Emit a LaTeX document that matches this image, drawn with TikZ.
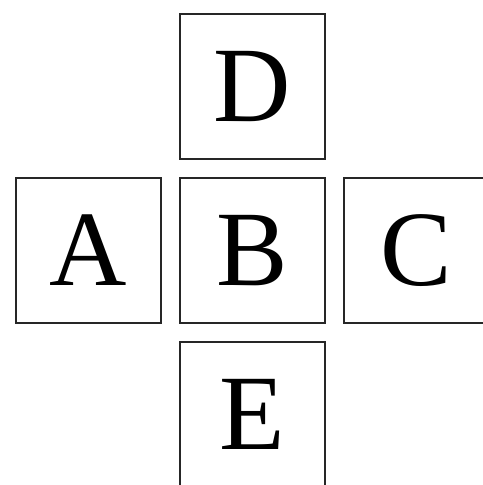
\documentclass[tikz,border=0pt]{standalone}
\usepackage{fontspec}
\setmainfont{Liberation Serif}
\usetikzlibrary{positioning}
\tikzstyle{box} = [rectangle, draw=black!85, line width=1.4pt, minimum size=2.9cm, inner sep=0pt, outer sep=0pt, text centered, font=\fontsize{61}{70}\selectfont]

\begin{document}
\begin{tikzpicture}[x=0.02cm, y=0.02cm, node distance=0.38cm]
        \clip (0,0) rectangle (483,-485);
        \node (B) [box] at (252.5,-250.5) {B};
        \node (D) [box, above=of B] {D};
        \node (A) [box, left=of B] {A};
        \node (C) [box, right=of B] {C};
        \node (E) [box, below=of B] {E};
    \end{tikzpicture}
\end{document}
